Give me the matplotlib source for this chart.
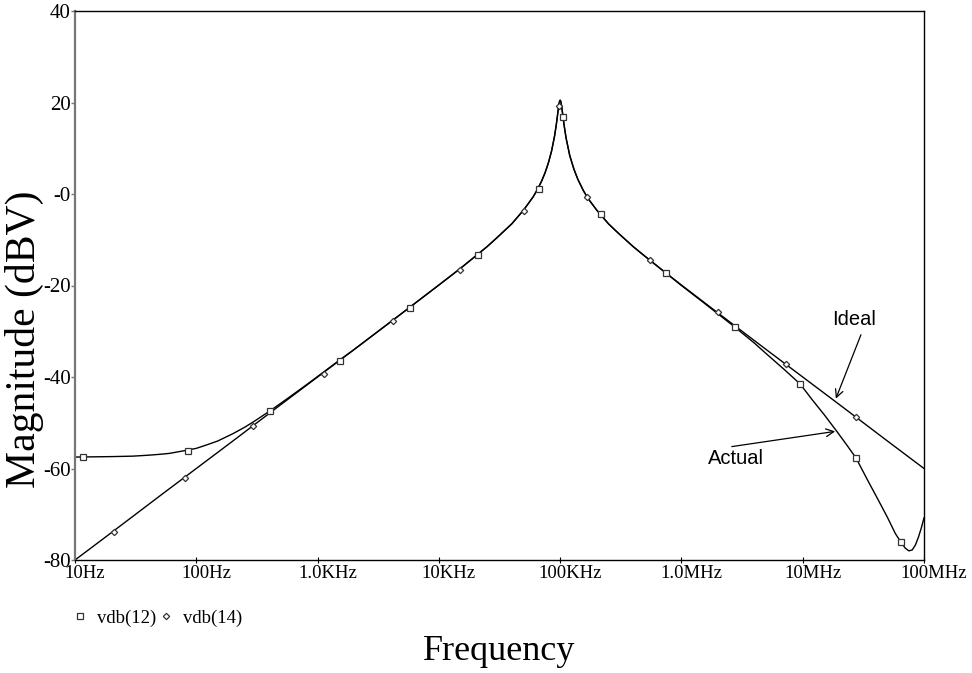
import matplotlib
matplotlib.use('Agg')
import matplotlib.pyplot as plt
from matplotlib.lines import Line2D
import matplotlib.transforms as mtransforms

# vdb(14): ideal band-pass response (dBV)
ideal_freq = [10, 20, 50, 100, 200, 500, 1e3, 2e3, 5e3, 1e4, 1.5e4, 2e4, 2.5e4, 3e4,
              4e4, 5e4, 6e4, 6.5e4, 7e4, 7.5e4, 8e4, 8.5e4, 9e4, 9.3e4, 9.5e4, 9.7e4,
              9.8e4, 9.9e4, 1e5, 1.01e5, 1.02e5, 1.03e5, 1.05e5, 1.08e5, 1.12e5,
              1.2e5, 1.3e5, 1.4e5, 1.55e5, 1.7e5, 2e5, 2.5e5, 3e5, 4e5, 5e5, 7e5,
              1e6, 2e6, 5e6, 1e7, 2e7, 5e7, 1e8]
ideal_db = [-80.0, -74.0, -66.0, -60.0, -54.0, -46.0, -40.0, -34.0, -26.0, -19.9,
            -16.3, -13.6, -11.5, -9.6, -6.5, -3.5, -0.6, 1.0, 2.7, 4.6, 6.8, 9.4,
            12.7, 15.2, 17.1, 19.0, 19.8, 20.3, 20.5, 20.3, 19.8, 19.1, 17.4, 14.9,
            12.2, 8.4, 5.4, 3.2, 0.8, -1.0, -3.5, -6.5, -8.5, -11.5, -13.6, -16.7,
            -19.9, -26.0, -34.0, -40.0, -46.0, -54.0, -60.0]

# vdb(12): actual circuit response (dBV)
actual_freq = [10, 20, 30, 40, 50, 60, 80, 100, 120, 150, 200, 250, 300, 400, 500,
               600, 800, 1e3, 1.5e3, 2e3, 5e3, 1e4, 1.5e4, 2e4, 2.5e4, 3e4, 4e4,
               5e4, 6e4, 6.5e4, 7e4, 7.5e4, 8e4, 8.5e4, 9e4, 9.3e4, 9.5e4, 9.7e4,
               9.8e4, 9.9e4, 1e5, 1.01e5, 1.02e5, 1.03e5, 1.05e5, 1.08e5, 1.12e5,
               1.2e5, 1.3e5, 1.4e5, 1.55e5, 1.7e5, 2e5, 2.5e5, 3e5, 4e5, 5e5, 7e5,
               1e6, 1.5e6, 2e6, 2.76e6, 4e6, 5e6, 7e6, 9.5e6, 1.2e7, 1.5e7, 1.9e7,
               2.3e7, 2.75e7, 3.5e7, 4.2e7, 5e7, 5.8e7, 6.45e7, 7e7, 7.5e7, 8e7,
               8.5e7, 9e7, 9.5e7, 1e8]
actual_db = [-57.5, -57.4, -57.3, -57.1, -56.9, -56.7, -56.1, -55.6, -54.9, -54.0,
             -52.4, -51.0, -49.7, -47.5, -45.7, -44.2, -41.8, -39.9, -36.4, -34.0,
             -26.0, -19.9, -16.3, -13.6, -11.5, -9.6, -6.5, -3.5, -0.6, 1.0, 2.7,
             4.6, 6.8, 9.4, 12.7, 15.2, 17.1, 19.0, 19.8, 20.3, 20.5, 20.3, 19.8,
             19.1, 17.4, 14.9, 12.2, 8.4, 5.4, 3.2, 0.8, -1.0, -3.5, -6.5, -8.5,
             -11.5, -13.6, -16.7, -20.0, -23.6, -26.2, -29.1, -32.6, -34.9, -38.3,
             -41.5, -45.0, -48.2, -51.8, -54.8, -57.7, -63.0, -66.9, -70.7, -74.2,
             -76.1, -77.4, -78.0, -77.8, -76.7, -75.0, -73.0, -70.8]

# trace markers
sq_freq = [11.6, 85.5, 405, 1.53e3, 5.78e3, 2.1e4, 6.68e4, 1.05e5, 2.17e5, 7.45e5,
           2.76e6, 9.48e6, 2.75e7, 6.45e7]
sq_db = [-57.5, -56.2, -47.4, -36.5, -24.9, -13.3, 1.1, 16.8, -4.4, -17.3, -29.1,
         -41.5, -57.7, -76.1]
dm_freq = [21, 80.7, 293, 1.13e3, 4.19e3, 1.49e4, 5.04e4, 9.75e4, 1.66e5, 5.5e5,
           2.0e6, 7.28e6, 2.75e7]
dm_db = [-73.9, -62.1, -50.7, -39.3, -27.8, -16.6, -3.7, 19.3, -0.6, -14.4, -25.8,
         -37.2, -48.7]

xticks = [10, 100, 1e3, 1e4, 1e5, 1e6, 1e7, 1e8]
xlabels = ['10Hz', '100Hz', '1.0KHz', '10KHz', '100KHz', '1.0MHz', '10MHz', '100MHz']
yticks = [-80, -60, -40, -20, 0, 20, 40]
ylabels = ['-80', '-60', '-40', '-20', '-0', '20', '40']

serif = 'Liberation Serif'
sans = 'Liberation Sans'

fig = plt.figure(figsize=(9.72, 6.73), dpi=100)
ax = fig.add_axes([75/972, 1 - 560/673, 849/972, 549/673])

ax.plot(actual_freq, actual_db, color='black', lw=1.0)
ax.plot(ideal_freq, ideal_db, color='black', lw=1.0)
ax.plot(sq_freq, sq_db, ls='none', marker='s', ms=4.5, mfc='white', mec='#333333', mew=0.9)
ax.plot(dm_freq, dm_db, ls='none', marker='D', ms=3.2, mfc='white', mec='#333333', mew=0.9)

ax.set_xscale('log')
ax.set_xlim(10, 1e8)
ax.set_ylim(-80, 40)
ax.minorticks_off()
ax.set_xticks(xticks)
ax.set_xticklabels(xlabels, fontfamily=serif, fontsize=13.5)
ax.set_yticks(yticks)
ax.set_yticklabels(ylabels, fontfamily=serif, fontsize=15)
ax.tick_params(axis='x', direction='inout', length=5, width=0.8, pad=1)
ax.tick_params(axis='y', direction='out', length=3, width=1.0, pad=0, color='#777777')
shift = mtransforms.ScaledTranslation(0.1, 0, fig.dpi_scale_trans)
for lab in ax.get_xticklabels():
    lab.set_transform(lab.get_transform() + shift)

for side in ('top', 'right', 'bottom'):
    ax.spines[side].set_color('black')
    ax.spines[side].set_linewidth(1.0)
ax.spines['left'].set_color('#777777')
ax.spines['left'].set_linewidth(1.6)

# axis titles
fig.text(24/972, 1 - 339/673, 'Magnitude (dBV)', rotation=90, ha='center', va='center',
         fontfamily=serif, fontsize=30)
fig.text(499/972, 1 - 651/673, 'Frequency', ha='center', va='center',
         fontfamily=serif, fontsize=26)

# trace legend
handles = [Line2D([], [], ls='none', marker='s', ms=4.5, mfc='white', mec='#333333', mew=0.9),
           Line2D([], [], ls='none', marker='D', ms=3.2, mfc='white', mec='#333333', mew=0.9)]
fig.legend(handles, ['vdb(12)', 'vdb(14)'], ncol=2, frameon=False,
           loc='center left', bbox_to_anchor=(71/972, 1 - 618/673),
           prop={'family': serif, 'size': 13.5}, handlelength=1.0,
           handletextpad=0.4, columnspacing=0.0, borderpad=0, borderaxespad=0)

# callouts
arrow = dict(arrowstyle='->', color='black', lw=0.9, mutation_scale=14)
ax.text(2.64e7, -27.5, 'Ideal', ha='center', va='center', fontfamily=sans, fontsize=14.5)
ax.annotate('', xy=(1.84e7, -45.3), xytext=(3.08e7, -30.2), arrowprops=arrow)
ax.text(2.81e6, -57.9, 'Actual', ha='center', va='center', fontfamily=sans, fontsize=14.5)
ax.annotate('', xy=(1.95e7, -51.8), xytext=(2.47e6, -55.3), arrowprops=arrow)

fig.savefig('out.png', dpi=100)
